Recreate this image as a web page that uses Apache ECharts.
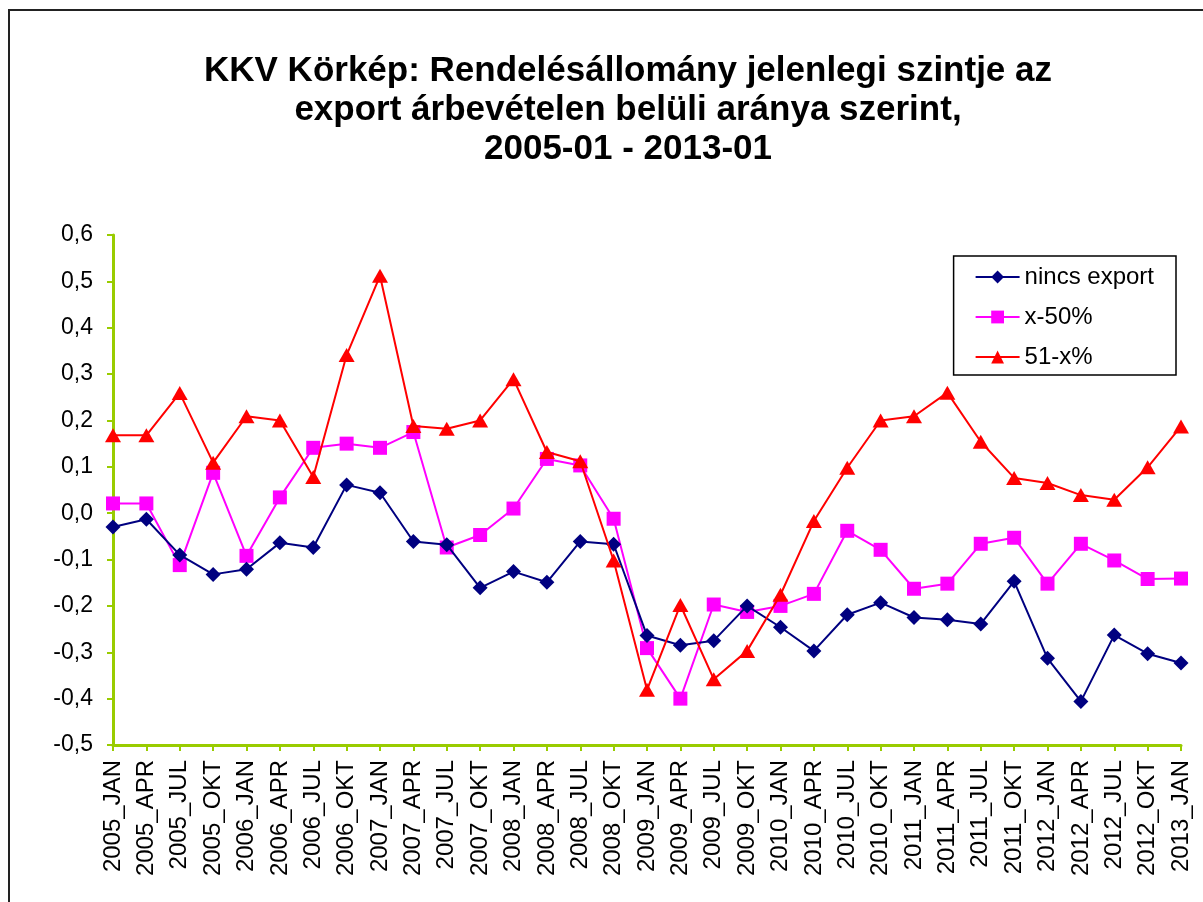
<!DOCTYPE html>
<html>
<head>
<meta charset="utf-8">
<script src="https://cdn.jsdelivr.net/npm/echarts@6/dist/echarts.min.js"></script>
<style>
  html, body { margin: 0; padding: 0; background: #fff; overflow: hidden; }
  #chart { width: 1203px; height: 902px; }
  .frame {
    position: absolute; left: 8px; top: 9px;
    width: 1400px; height: 1100px;
    border: 2px solid #222; pointer-events: none;
  }
</style>
</head>
<body>
<div id="chart"></div>
<div class="frame"></div>
<script>
const categories = [
  '2005_JAN', '2005_APR', '2005_JUL', '2005_OKT',
  '2006_JAN', '2006_APR', '2006_JUL', '2006_OKT',
  '2007_JAN', '2007_APR', '2007_JUL', '2007_OKT',
  '2008_JAN', '2008_APR', '2008_JUL', '2008_OKT',
  '2009_JAN', '2009_APR', '2009_JUL', '2009_OKT',
  '2010_JAN', '2010_APR', '2010_JUL', '2010_OKT',
  '2011_JAN', '2011_APR', '2011_JUL', '2011_OKT',
  '2012_JAN', '2012_APR', '2012_JUL', '2012_OKT',
  '2013_JAN'
];

// nincs export
const nincsExport = [
  -0.030, -0.013, -0.090, -0.132, -0.121, -0.064, -0.074, 0.061,
  0.044, -0.061, -0.068, -0.161, -0.126, -0.149, -0.061, -0.067,
  -0.264, -0.285, -0.275, -0.200, -0.246, -0.297, -0.219, -0.193,
  -0.225, -0.230, -0.239, -0.147, -0.313, -0.406, -0.263, -0.303,
  -0.323
];

// x-50%
const x50 = [
  0.021, 0.021, -0.112, 0.087, -0.092, 0.034, 0.141, 0.150,
  0.141, 0.175, -0.074, -0.047, 0.010, 0.117, 0.103, -0.012,
  -0.291, -0.400, -0.197, -0.213, -0.200, -0.174, -0.038, -0.079,
  -0.163, -0.152, -0.066, -0.053, -0.152, -0.066, -0.102, -0.142,
  -0.141
];

// 51-x%
const x51 = [
  0.168, 0.168, 0.259, 0.109, 0.209, 0.200, 0.078, 0.341,
  0.512, 0.188, 0.182, 0.200, 0.289, 0.132, 0.112, -0.102,
  -0.381, -0.198, -0.358, -0.297, -0.176, -0.017, 0.098, 0.200,
  0.209, 0.260, 0.154, 0.076, 0.065, 0.039, 0.029, 0.099,
  0.187
];

const axisGreen = '#99CC00';
const font = 'Liberation Sans, Arial, sans-serif';

const myChart = echarts.init(document.getElementById('chart'));
const option = {
  animation: false,
  backgroundColor: '#fff',
  title: {
    text: 'KKV Körkép: Rendelésállomány jelenlegi szintje az\nexport árbevételen belüli aránya szerint,\n2005-01 - 2013-01',
    left: 623,
    top: 47,
    textAlign: 'center',
    textStyle: {
      fontFamily: font,
      fontSize: 35,
      fontWeight: 'bold',
      color: '#000',
      lineHeight: 39
    }
  },
  legend: {
    orient: 'vertical',
    right: 27,
    top: 256,
    padding: [9, 22, 6, 21],
    itemWidth: 44,
    itemHeight: 16,
    itemGap: 16,
    borderColor: '#000',
    borderWidth: 1.5,
    borderRadius: 0,
    textStyle: {
      fontFamily: font,
      fontSize: 24,
      color: '#000'
    },
    data: ['nincs export', 'x-50%', '51-x%']
  },
  grid: {
    left: 113,
    right: 22,
    top: 235,
    bottom: 157,
    containLabel: false
  },
  xAxis: {
    type: 'category',
    data: categories,
    boundaryGap: false,
    axisLine: { onZero: false, lineStyle: { color: axisGreen, width: 3 } },
    axisTick: { show: true, length: 6, lineStyle: { color: axisGreen, width: 2 } },
    axisLabel: {
      rotate: 90,
      interval: 0,
      margin: 15,
      fontFamily: font,
      fontSize: 24,
      color: '#000'
    },
    splitLine: { show: false }
  },
  yAxis: {
    type: 'value',
    min: -0.5,
    max: 0.6,
    interval: 0.1,
    axisLine: { show: true, lineStyle: { color: axisGreen, width: 3 } },
    axisTick: { show: true, length: 6, lineStyle: { color: axisGreen, width: 2 } },
    axisLabel: {
      margin: 20,
      fontFamily: font,
      fontSize: 23,
      color: '#000',
      formatter: v => v.toFixed(1).replace('.', ',').replace('-0,0', '0,0')
    },
    splitLine: { show: false }
  },
  series: [
    {
      name: 'nincs export',
      type: 'line',
      data: nincsExport,
      symbol: 'diamond',
      symbolSize: 15,
      color: '#000080',
      lineStyle: { color: '#000080', width: 2 },
      itemStyle: { color: '#000080' },
      z: 4
    },
    {
      name: 'x-50%',
      type: 'line',
      data: x50,
      symbol: 'rect',
      symbolSize: 14,
      color: '#FF00FF',
      lineStyle: { color: '#FF00FF', width: 2 },
      itemStyle: { color: '#FF00FF' },
      z: 3
    },
    {
      name: '51-x%',
      type: 'line',
      data: x51,
      symbol: 'triangle',
      symbolSize: [16, 14],
      color: '#FF0000',
      lineStyle: { color: '#FF0000', width: 2 },
      itemStyle: { color: '#FF0000' },
      z: 5
    }
  ]
};
myChart.setOption(option);
</script>
</body>
</html>
